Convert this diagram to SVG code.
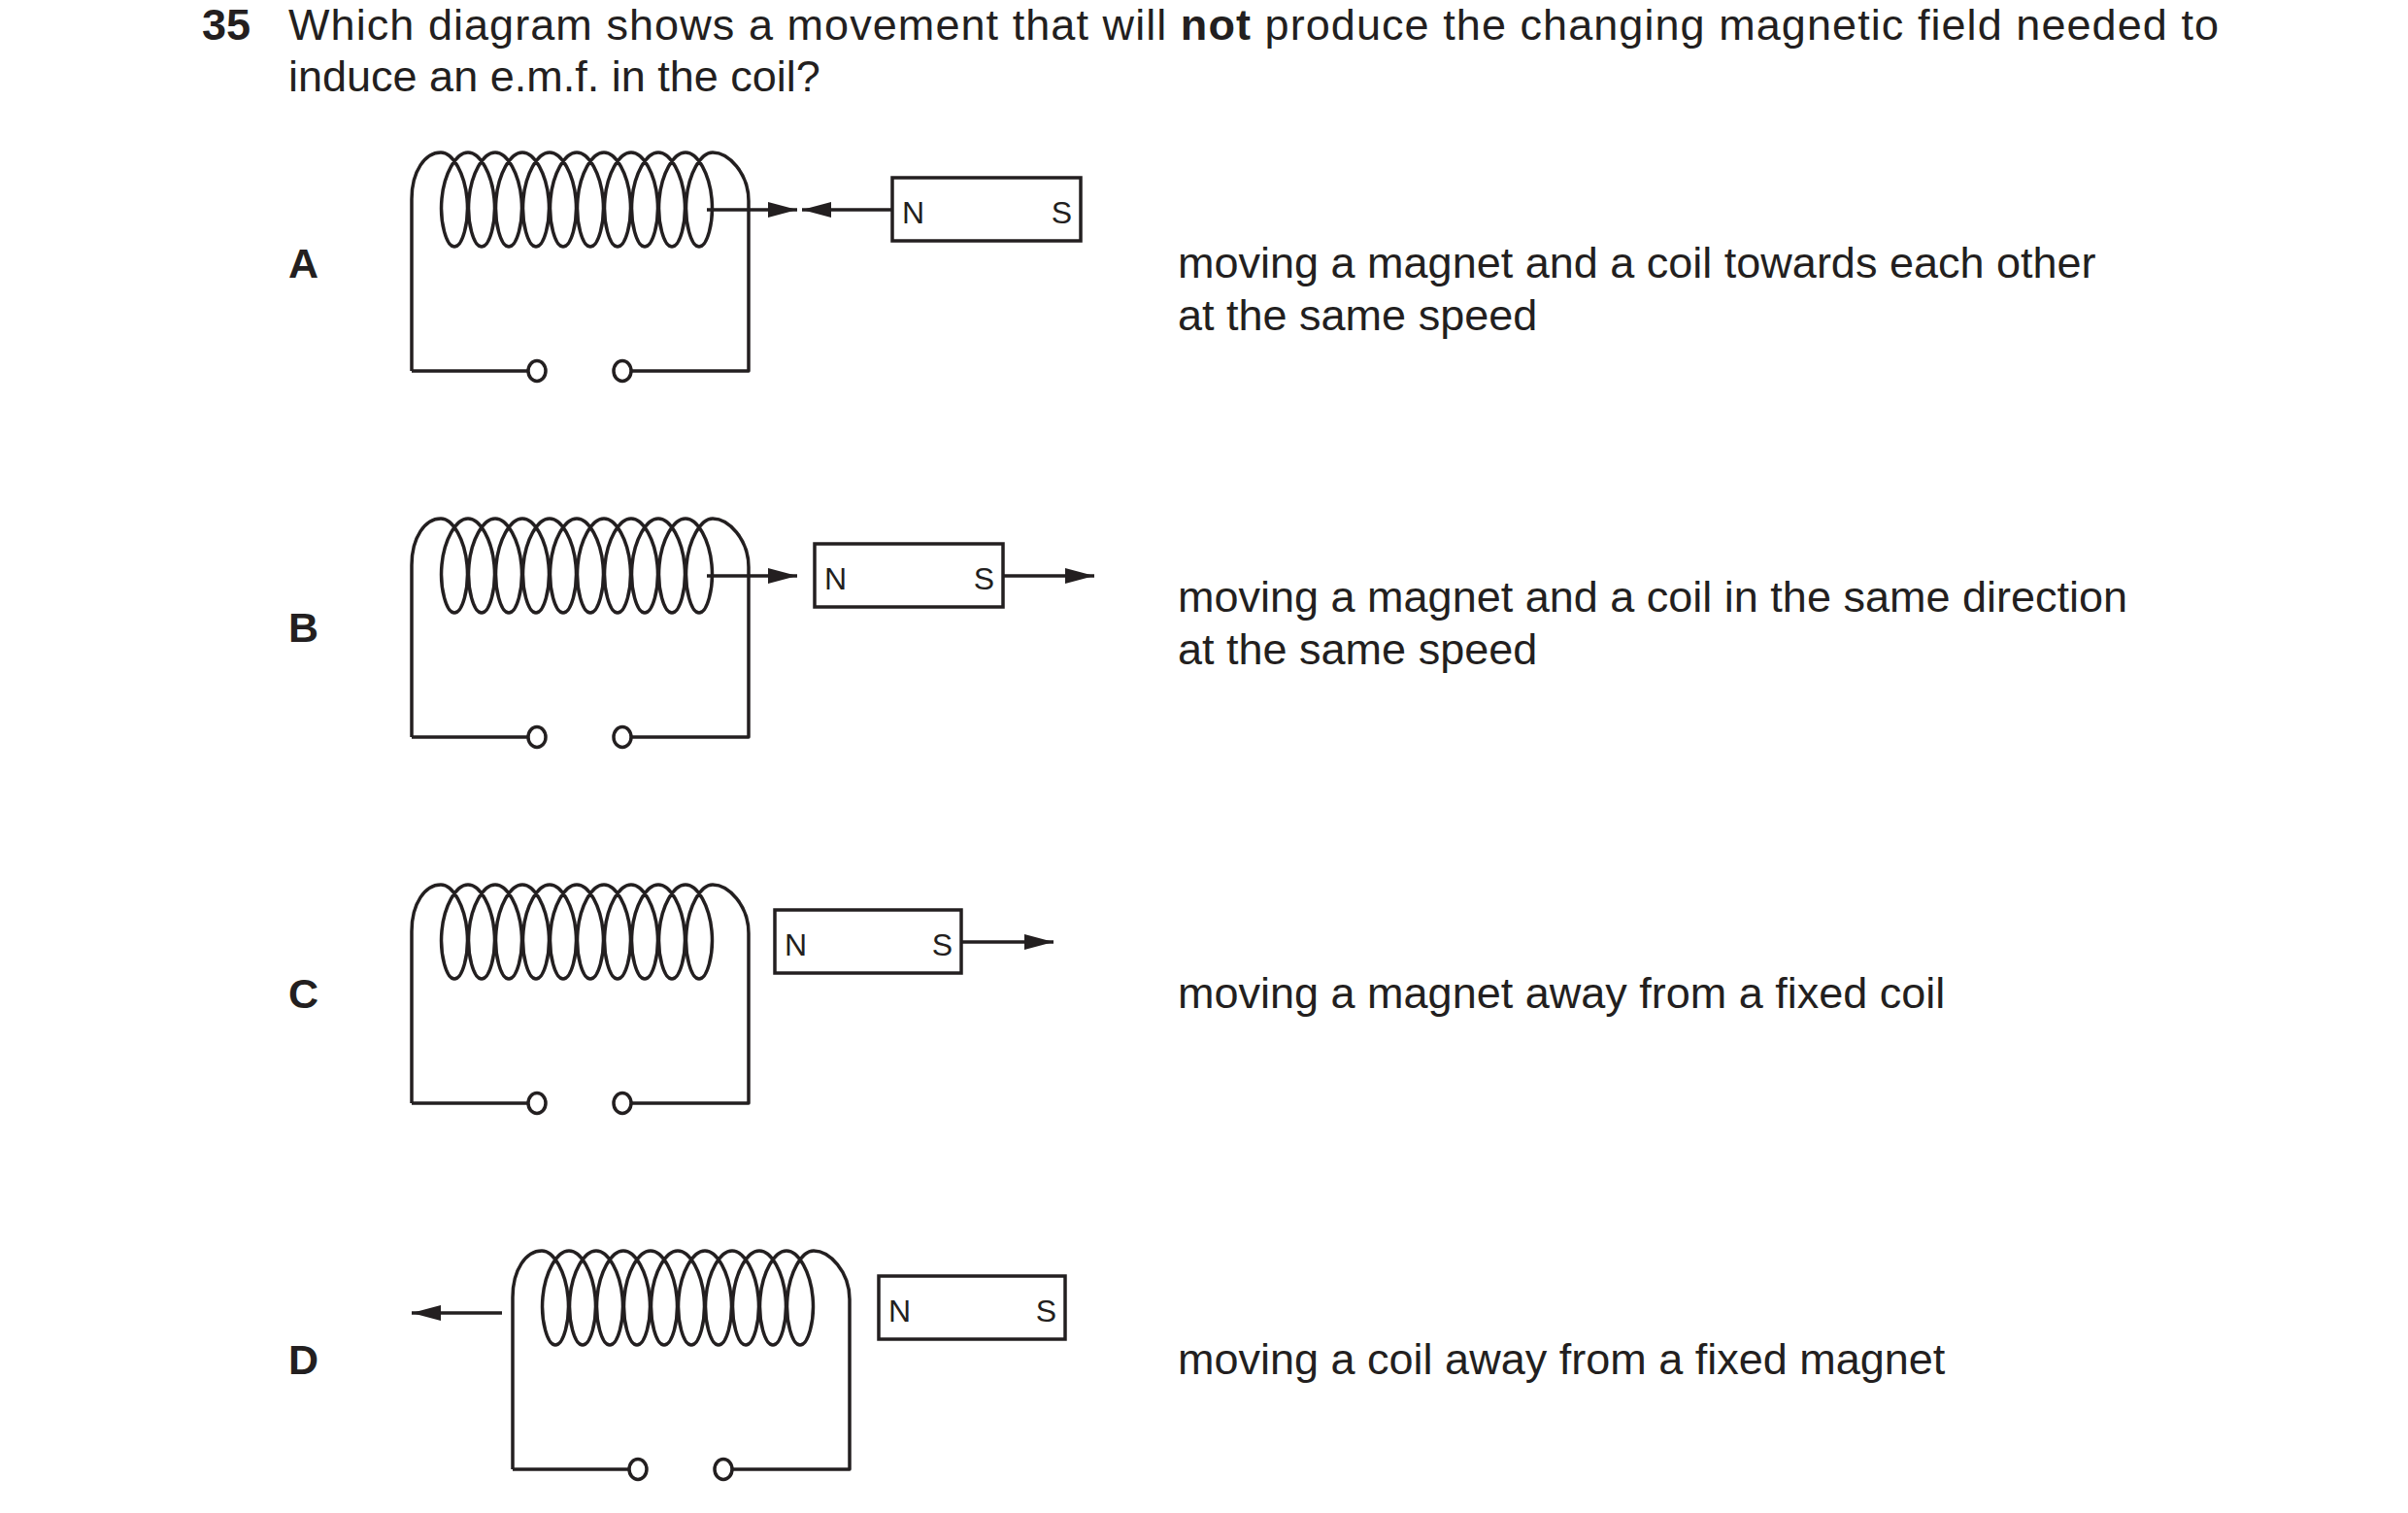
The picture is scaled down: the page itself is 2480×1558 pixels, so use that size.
<svg xmlns="http://www.w3.org/2000/svg" width="2480" height="1558" viewBox="0 0 2480 1558">
<style>
.w{fill:none;stroke:#231f20;stroke-width:3.5;stroke-linejoin:round}
.t{fill:#fff;stroke:#231f20;stroke-width:3.5}
.m{fill:#fff;stroke:#231f20;stroke-width:3.5}
.a{fill:none;stroke:#231f20;stroke-width:3.5}
text{font-family:"Liberation Sans",Arial,sans-serif;fill:#231f20}
.q{font-size:45px}
.l{font-size:43px;font-weight:bold}
.p{font-size:32px}
</style>
<defs>
<marker id="ah" markerUnits="userSpaceOnUse" markerWidth="34" markerHeight="22" refX="30" refY="11" orient="auto"><path d="M0,3 L30,11 L0,19 Z" fill="#231f20"/></marker>
<g id="coil">
<path class="w" d="M424,382 V205 C424,176 438,157 454,157 c12.8,0 24.67,22.6 27,47.5 c2.33,24.9 -4.9,49.5 -13,49.5
c-8.1,0 -15.3,-24.6 -13,-49.5 c2.33,-24.9 14.2,-47.5 27,-47.5 c12.8,0 24.67,22.6 27,47.5 c2.33,24.9 -4.9,49.5 -13,49.5
c-8.1,0 -15.3,-24.6 -13,-49.5 c2.33,-24.9 14.2,-47.5 27,-47.5 c12.8,0 24.67,22.6 27,47.5 c2.33,24.9 -4.9,49.5 -13,49.5
c-8.1,0 -15.3,-24.6 -13,-49.5 c2.33,-24.9 14.2,-47.5 27,-47.5 c12.8,0 24.67,22.6 27,47.5 c2.33,24.9 -4.9,49.5 -13,49.5
c-8.1,0 -15.3,-24.6 -13,-49.5 c2.33,-24.9 14.2,-47.5 27,-47.5 c12.8,0 24.67,22.6 27,47.5 c2.33,24.9 -4.9,49.5 -13,49.5
c-8.1,0 -15.3,-24.6 -13,-49.5 c2.33,-24.9 14.2,-47.5 27,-47.5 c12.8,0 24.67,22.6 27,47.5 c2.33,24.9 -4.9,49.5 -13,49.5
c-8.1,0 -15.3,-24.6 -13,-49.5 c2.33,-24.9 14.2,-47.5 27,-47.5 c12.8,0 24.67,22.6 27,47.5 c2.33,24.9 -4.9,49.5 -13,49.5
c-8.1,0 -15.3,-24.6 -13,-49.5 c2.33,-24.9 14.2,-47.5 27,-47.5 c12.8,0 24.67,22.6 27,47.5 c2.33,24.9 -4.9,49.5 -13,49.5
c-8.1,0 -15.3,-24.6 -13,-49.5 c2.33,-24.9 14.2,-47.5 27,-47.5 c12.8,0 24.67,22.6 27,47.5 c2.33,24.9 -4.9,49.5 -13,49.5
c-8.1,0 -15.3,-24.6 -13,-49.5 c2.33,-24.9 14.2,-47.5 27,-47.5 c12.8,0 24.67,22.6 27,47.5 c2.33,24.9 -4.9,49.5 -13,49.5
c-8.1,0 -15.3,-24.6 -13,-49.5 c2.33,-24.9 14.2,-47.5 27,-47.5
C750,157 771,178 771,207 V382 H650 M544,382 H424"/>
<ellipse class="t" cx="553" cy="382" rx="9" ry="10.5"/>
<ellipse class="t" cx="641" cy="382" rx="9" ry="10.5"/>
</g>
</defs>
<text class="q" x="208" y="41" font-weight="bold">35</text>
<text class="q" x="297" y="41" textLength="1988" lengthAdjust="spacing">Which diagram shows a movement that will <tspan font-weight="bold">not</tspan> produce the changing magnetic field needed to</text>
<text class="q" x="297" y="94">induce an e.m.f. in the coil?</text>

<g id="optionA">
<text class="l" x="297" y="286">A</text>
<use href="#coil"/>
<rect class="m" x="919" y="183" width="194" height="65"/>
<text class="p" x="929" y="230">N</text>
<text class="p" x="1104" y="230" text-anchor="end">S</text>
<text class="q" x="1213" y="286">moving a magnet and a coil towards each other</text>
<text class="q" x="1213" y="340">at the same speed</text>
</g>
<g id="optionB">
<text class="l" x="297" y="661">B</text>
<use href="#coil" y="377"/>
<rect class="m" x="839" y="560" width="194" height="65"/>
<text class="p" x="849" y="607">N</text>
<text class="p" x="1024" y="607" text-anchor="end">S</text>
<text class="q" x="1213" y="630">moving a magnet and a coil in the same direction</text>
<text class="q" x="1213" y="684">at the same speed</text>
</g>
<g id="optionC">
<text class="l" x="297" y="1038">C</text>
<use href="#coil" y="754"/>
<rect class="m" x="798" y="937" width="192" height="65"/>
<text class="p" x="808" y="984">N</text>
<text class="p" x="981" y="984" text-anchor="end">S</text>
<text class="q" x="1213" y="1038">moving a magnet away from a fixed coil</text>
</g>
<g id="optionD">
<text class="l" x="297" y="1415">D</text>
<use href="#coil" x="104" y="1131"/>
<rect class="m" x="905" y="1314" width="192" height="65"/>
<text class="p" x="915" y="1361">N</text>
<text class="p" x="1088" y="1361" text-anchor="end">S</text>
<text class="q" x="1213" y="1415">moving a coil away from a fixed magnet</text>
</g>
<g id="connectors">
<line class="a" x1="728" y1="216" x2="821" y2="216" marker-end="url(#ah)"/>
<line class="a" x1="919" y1="216" x2="826" y2="216" marker-end="url(#ah)"/>
<line class="a" x1="728" y1="593" x2="821" y2="593" marker-end="url(#ah)"/>
<line class="a" x1="1033" y1="593" x2="1127" y2="593" marker-end="url(#ah)"/>
<line class="a" x1="990" y1="970" x2="1085" y2="970" marker-end="url(#ah)"/>
<line class="a" x1="517" y1="1352" x2="424" y2="1352" marker-end="url(#ah)"/>
</g>
</svg>
